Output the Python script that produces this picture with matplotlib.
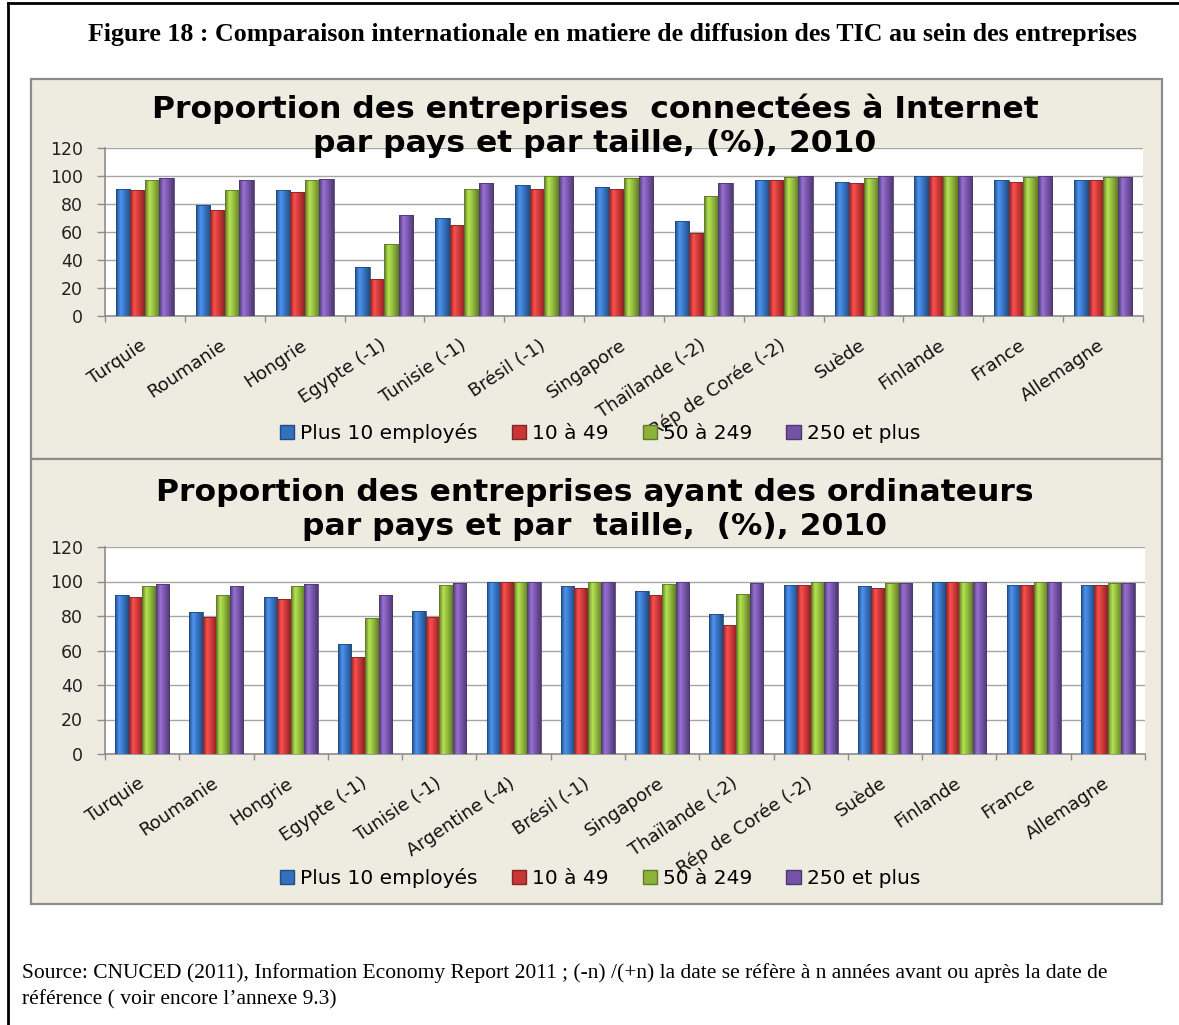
import matplotlib
matplotlib.use('Agg')
import matplotlib.pyplot as plt
import numpy as np
from matplotlib.patches import Rectangle, Patch
from matplotlib.lines import Line2D
from matplotlib.colors import LinearSegmentedColormap, to_rgb

W, H, DPI = 1179, 1025, 100

# ---------------- data ----------------
series = ["Plus 10 employés", "10 à 49", "50 à 249", "250 et plus"]
colors = ["#3470BE", "#C83636", "#8DB43A", "#7453A6"]

pays_internet = ["Turquie", "Roumanie", "Hongrie", "Egypte (-1)", "Tunisie (-1)",
                 "Brésil (-1)", "Singapore", "Thaïlande (-2)", "Rép de Corée (-2)",
                 "Suède", "Finlande", "France", "Allemagne"]
internet_plus10 = [91, 79.5, 90, 35, 70, 93.5, 92.5, 68, 97, 96, 100, 97, 97]
internet_10_49 = [90, 76, 88.5, 26.5, 65, 91, 91, 59, 97, 95, 100, 96, 97]
internet_50_249 = [97, 90, 97, 51.5, 91, 100, 98.5, 85.5, 99.5, 98.5, 100, 99.5, 99.5]
internet_250 = [98.5, 97, 98, 72, 95, 100, 100, 95, 100, 100, 100, 100, 99.5]

pays_ordi = ["Turquie", "Roumanie", "Hongrie", "Egypte (-1)", "Tunisie (-1)",
             "Argentine (-4)", "Brésil (-1)", "Singapore", "Thaïlande (-2)",
             "Rép de Corée (-2)", "Suède", "Finlande", "France", "Allemagne"]
ordi_plus10 = [92, 82.5, 91, 64, 83, 100, 97.5, 94.5, 81, 98, 97.5, 100, 98, 98]
ordi_10_49 = [91, 79.5, 90, 56.5, 79.5, 100, 96.5, 92, 75, 98, 96.5, 100, 98, 98]
ordi_50_249 = [97.5, 92, 97.5, 79, 98, 100, 100, 98.5, 93, 100, 99, 100, 100, 99]
ordi_250 = [98.5, 97.5, 98.5, 92, 99, 100, 100, 100, 99, 100, 99, 100, 100, 99]

yticks = [0, 20, 40, 60, 80, 100, 120]

fig_title = "Figure 18 : Comparaison internationale en matiere de diffusion des TIC au sein des entreprises"
t1_l1 = "Proportion des entreprises  connectées à Internet"
t1_l2 = "par pays et par taille, (%), 2010"
t2_l1 = "Proportion des entreprises ayant des ordinateurs"
t2_l2 = "par pays et par  taille,  (%), 2010"
source_l1 = ("Source: CNUCED (2011), Information Economy Report 2011 ; (-n) /(+n) la date se "
             "réfère à n années avant ou après la date de")
source_l2 = "référence ( voir encore l’annexe 9.3)"

# ---------------- figure ----------------
fig = plt.figure(figsize=(W / DPI, H / DPI), dpi=DPI)
fig.patch.set_facecolor('white')
renderer = fig.canvas.get_renderer()


def fx(px):
    return px / W


def fy(py):
    return 1 - py / H


# outer border (left + top)
fig.add_artist(Line2D([fx(8), fx(8)], [fy(3), fy(1025)], color='black', lw=2, transform=fig.transFigure))
fig.add_artist(Line2D([fx(8), fx(1179)], [fy(3), fy(3)], color='black', lw=2, transform=fig.transFigure))

# chart panels
for top, bot in [(79, 459), (459, 904)]:
    fig.add_artist(Rectangle((fx(31), fy(bot)), fx(1162) - fx(31), fy(top) - fy(bot),
                             transform=fig.transFigure, facecolor='#EEECE1',
                             edgecolor='#8C8C8C', lw=1.6, zorder=0))


def fit_text(x, y, s, target_w, **kw):
    t = fig.text(fx(x), fy(y), s, **kw)
    bb = t.get_window_extent(renderer)
    t.set_fontsize(t.get_fontsize() * target_w / bb.width)
    return t


fit_text(612, 35, fig_title, 1050, ha='center', va='center',
         family='Liberation Serif', weight='bold', fontsize=16)

tt = fit_text(595, 118, t1_l1, 885, ha='center', va='baseline',
              family='DejaVu Sans', weight='bold', fontsize=20)
tsize = tt.get_fontsize()
fig.text(fx(595), fy(152), t1_l2, ha='center', va='baseline',
         family='DejaVu Sans', weight='bold', fontsize=tsize, zorder=5)
fig.text(fx(595), fy(501), t2_l1, ha='center', va='baseline',
         family='DejaVu Sans', weight='bold', fontsize=tsize)
fig.text(fx(595), fy(535), t2_l2, ha='center', va='baseline',
         family='DejaVu Sans', weight='bold', fontsize=tsize, zorder=5)

st = fit_text(22, 973, source_l1, 1080, ha='left', va='center',
              family='Liberation Serif', fontsize=12)
fig.text(fx(22), fy(1000), source_l2, ha='left', va='center',
         family='Liberation Serif', fontsize=st.get_fontsize())


def grad_bars(ax, x, h, width, base):
    bars = ax.bar(x, h, width, color=base, edgecolor='none', zorder=3)
    rgb = np.array(to_rgb(base))
    light = tuple(np.clip(rgb * 1.18 + 0.06, 0, 1))
    dark = tuple(rgb * 0.68)
    cmap = LinearSegmentedColormap.from_list(
        'g', [(0, dark), (0.3, light), (0.65, tuple(rgb)), (1, dark)])
    grad = np.linspace(0, 1, 64).reshape(1, -1)
    for p in bars:
        x0, y0 = p.get_x(), p.get_y()
        w, hh = p.get_width(), p.get_height()
        im = ax.imshow(grad, cmap=cmap, extent=(x0, x0 + w, y0, y0 + hh),
                       aspect='auto', zorder=3.5, interpolation='bilinear')
        im.set_clip_path(p)
    ax.bar(x, h, width, fill=False, edgecolor=dark, lw=0.6, zorder=4)
    return bars


def make_chart(rect_px, labels, data, legend_y):
    x0, y0, x1, y1 = rect_px  # left, top, right, bottom in pixels
    ax = fig.add_axes([fx(x0), fy(y1), fx(x1) - fx(x0), fy(y0) - fy(y1)])
    ax.set_facecolor('white')
    n = len(labels)
    centers = np.arange(n) + 0.5
    bw = 1 / 5.5
    offs = (np.arange(4) - 1.5) * bw
    for k in range(4):
        grad_bars(ax, centers + offs[k], data[k], bw, colors[k])
    ax.set_xlim(0, n)
    ax.set_ylim(0, 120)
    ax.set_yticks(yticks)
    ax.yaxis.grid(True, color='#A6A6A6', lw=1)
    ax.set_axisbelow(True)
    for s in ['top', 'right']:
        ax.spines[s].set_visible(False)
    for s in ['left', 'bottom']:
        ax.spines[s].set_color('#8C8C8C')
        ax.spines[s].set_linewidth(1.2)
    ax.tick_params(axis='y', length=5.8, width=1, color='#8C8C8C', pad=10,
                   labelsize=12.5, labelcolor='#222222')
    ax.set_xticks(centers)
    ax.set_xticks(np.arange(n + 1), minor=True)
    ax.tick_params(axis='x', which='major', length=0, pad=20)
    ax.tick_params(axis='x', which='minor', length=4, width=1, color='#8C8C8C')
    ax.set_xticklabels(labels, rotation=34, ha='right', va='center',
                       rotation_mode='anchor', fontsize=13, color='#111111')
    handles = [Patch(facecolor=c, edgecolor=tuple(np.array(to_rgb(c)) * 0.68))
               for c in colors]
    ax.legend(handles, series, loc='center', bbox_to_anchor=(fx(600), fy(legend_y)),
              bbox_transform=fig.transFigure, ncol=4, frameon=False, fontsize=14.5,
              handlelength=0.7, handleheight=0.7, handletextpad=0.3,
              columnspacing=1.7)
    return ax


make_chart((105, 148, 1143, 316), pays_internet,
           [internet_plus10, internet_10_49, internet_50_249, internet_250], 433)
make_chart((105, 547, 1145, 754), pays_ordi,
           [ordi_plus10, ordi_10_49, ordi_50_249, ordi_250], 878)

fig.savefig('out.png', dpi=DPI, facecolor='white')
